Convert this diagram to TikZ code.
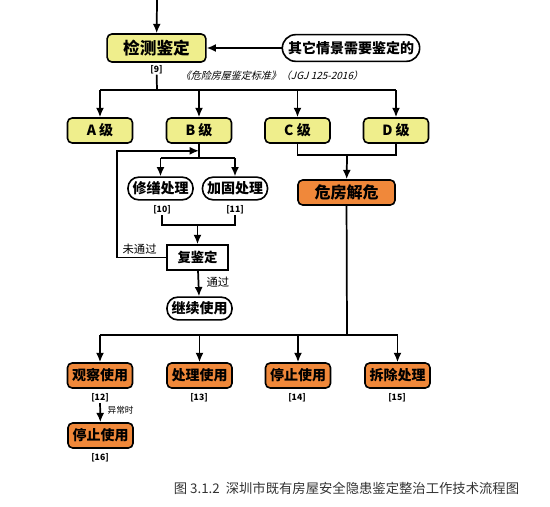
\documentclass[tikz,border=0pt]{standalone}
\usepackage{fontspec}
\setmainfont{Noto Sans CJK SC}
\newfontfamily\cjkslant{Noto Sans CJK SC}[FakeSlant=0.25]
\usetikzlibrary{arrows.meta,positioning,calc}
\def\boxwidth{48.75pt}
\def\boxheight{18.75pt}
\definecolor{gradeyellow}{HTML}{EFEE8C}
\definecolor{dangerorange}{HTML}{F0883A}
\tikzset{
  flow/.style={line width=1.3pt},
  arr/.style={flow,-{Latex[length=7pt,width=6pt]}},
  box/.style={draw,line width=1.2pt,rounded corners=3.5pt,minimum width=\boxwidth,minimum height=\boxheight,inner sep=1pt,font=\bfseries\fontsize{10.5}{12}\selectfont},
  gradebox/.style={box,fill=gradeyellow},
  orangebox/.style={box,fill=dangerorange},
  pillbox/.style={box,rounded corners=8pt,minimum height=17pt},
  plainbox/.style={box,rounded corners=0pt},
  reflabel/.style={font=\bfseries\fontsize{6.5}{7}\selectfont,inner sep=0.5pt},
  edgelabel/.style={font=\fontsize{8.5}{9}\selectfont,inner sep=1pt}
}

\begin{document}
\begin{tikzpicture}[x=0.75pt,y=-0.75pt]
  \useasboundingbox (0,0) rectangle (550,507);

  % inspection
  \coordinate (top) at (157,0);
  \node[gradebox,minimum width=74pt,minimum height=21pt,font=\bfseries\fontsize{12.5}{14}\selectfont] (jc) at (156.5,48) {检测鉴定};
  \node[pillbox,minimum width=103pt,minimum height=20pt,rounded corners=10pt] (qt) at (351,48) {其它情景需要鉴定的};
  \draw[arr] (top) -- (jc);
  \draw[arr] (qt) -- (jc);
  \node[reflabel,below=1pt of jc] (lb9) {[9]};
  \node[font=\cjkslant\fontsize{7.5}{8}\selectfont] (std) at (272,76) {《危险房屋鉴定标准》（JGJ 125-2016）};

  % grades
  \coordinate (s9) at (157,90);
  \node[gradebox] (A) at (100,130.5) {A 级};
  \node[gradebox] (B) at (199,130.5) {B 级};
  \node[gradebox] (C) at (297.5,130.5) {C 级};
  \node[gradebox] (D) at (396,130.5) {D 级};
  \draw[flow] (lb9) -- (s9);
  \draw[flow] (s9 -| A) -- (s9 -| D);
  \foreach \g in {A,B,C,D}
    \draw[arr] (s9 -| \g) -- (\g);

  % B branch
  \node[pillbox] (xs) at (160.5,188.5) {修缮处理};
  \node[pillbox] (jg) at (235,188.5) {加固处理};
  \node[reflabel] (lb10) at (162,210) {[10]};
  \node[reflabel] (lb11) at (235,210) {[11]};
  \coordinate (bjoin) at ($ (B.south) + (0,7) $);
  \coordinate (bsplit) at ($ (B.south) + (0,14) $);
  \draw[flow] (B) -- (bsplit);
  \draw[flow] (bsplit -| xs) -- (bsplit -| jg);
  \draw[arr] (bsplit -| xs) -- (xs);
  \draw[arr] (bsplit -| jg) -- (jg);

  \node[plainbox,minimum width=45.75pt,font=\bfseries\fontsize{10}{12}\selectfont] (fj) at (197.5,257.5) {复鉴定};
  \coordinate (rjoin) at (197.5,225);
  \draw[flow] (lb10) |- (rjoin) -| (lb11);
  \draw[arr] (rjoin) -- (fj);
  \draw[arr] (fj.west) -- ++(-49,0) coordinate (loop) |- (bjoin);
  \node[edgelabel,anchor=south east] (wtg) at ($ (fj.west) + (-8,-1) $) {未通过};

  \node[pillbox] (jx) at (199.5,308.5) {继续使用};
  \draw[arr] (fj) -- (jx);
  \node[edgelabel,anchor=west] (tg) at (205,282) {通过};

  % C / D branch
  \node[orangebox,minimum width=72.75pt,font=\bfseries\fontsize{12}{14}\selectfont] (wf) at (346.5,192.5) {危房解危};
  \coordinate (cdjoin) at (347,155);
  \draw[flow] (C) |- (cdjoin) -| (D);
  \draw[arr] (cdjoin) -- (wf);

  % measures
  \coordinate (s2) at (347,335);
  \node[orangebox] (gc) at (100,375.5) {观察使用};
  \node[orangebox] (cl) at (199.5,375.5) {处理使用};
  \node[orangebox] (tz) at (298,375.5) {停止使用};
  \node[orangebox] (cc) at (397.5,375.5) {拆除处理};
  \draw[flow] (wf) -- (s2);
  \draw[flow] (s2 -| gc) -- (s2 -| cc);
  \foreach \m in {gc,cl,tz,cc}
    \draw[arr] (s2 -| \m) -- (\m);
  \node[reflabel] (lb12) at (100,398) {[12]};
  \node[reflabel] (lb13) at (199,398) {[13]};
  \node[reflabel] (lb14) at (297,398) {[14]};
  \node[reflabel] (lb15) at (397,398) {[15]};

  \node[orangebox] (tz2) at (100.5,435.5) {停止使用};
  \draw[arr] (lb12) -- (tz2);
  \node[edgelabel,anchor=west,font=\fontsize{6.5}{7}\selectfont] (yc) at (106,410) {异常时};
  \node[reflabel] (lb16) at (100,458) {[16]};

  % caption
  \node[text=black!80,font=\fontsize{10}{12}\selectfont] (cap) at (346.5,488) {图 3.1.2\ \ 深圳市既有房屋安全隐患鉴定整治工作技术流程图};
\end{tikzpicture}
\end{document}
